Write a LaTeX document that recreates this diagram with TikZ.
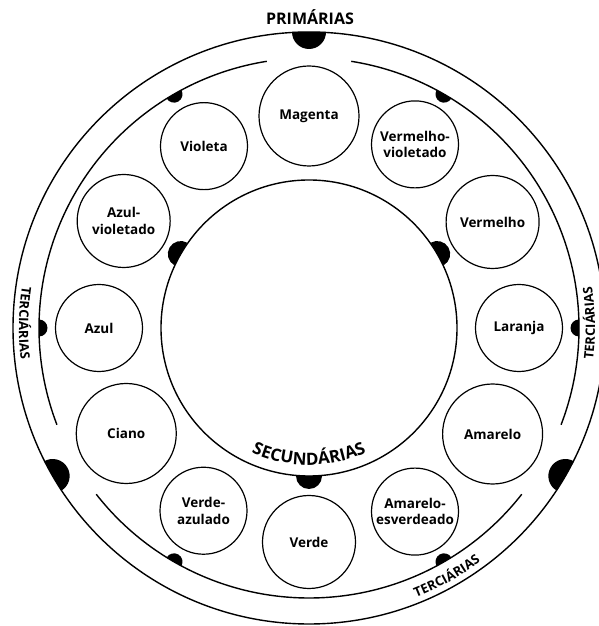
\documentclass[tikz,border=0pt]{standalone}
\usepackage{fontspec}
\setmainfont{Open Sans}
\usetikzlibrary{decorations.text}
\newcommand\tercfont{\bfseries\fontsize{13}{13}\selectfont}
\newcommand\secfont{\bfseries\fontsize{17}{17}\selectfont}
\begin{document}
\begin{tikzpicture}[x=1pt,y=1pt,
  ring/.style={line width=1.4pt},
  colorcircle/.style={circle, draw, line width=1.2pt, inner sep=0pt, align=center,
    font=\bfseries\fontsize{13.5}{16.5}\selectfont},
  prim/.style={colorcircle, minimum size=100pt},
  sec/.style={colorcircle, minimum size=93pt},
  ter/.style={colorcircle, minimum size=87pt},
  arctext/.style={decorate, decoration={text along path, text align=center, text={#1}}}
]
\useasboundingbox (0,0) rectangle (599,626);
\clip (0,0) rectangle (599,626);
\coordinate (C) at (309,298);

% rings
\draw[ring] (C) circle[radius=296];
\draw[ring] (C) circle[radius=148];
\draw[ring] ([shift={(99:270)}]C) arc[start angle=99, end angle=201, radius=270];
\draw[ring] ([shift={(218:270)}]C) arc[start angle=218, end angle=322, radius=270];
\draw[ring] ([shift={(339:270)}]C) arc[start angle=339, end angle=441, radius=270];

% dots
\foreach \a in {90,210,330}
  \fill ([shift={(\a:296)}]C) ++(\a+90:17) arc[start angle=\a+90, end angle=\a+270, radius=17] -- cycle;
\foreach \a in {30,150,270}
  \fill ([shift={(\a:148)}]C) ++(\a-90:13) arc[start angle=\a-90, end angle=\a+90, radius=13] -- cycle;
\foreach \a in {0,60,120,180,240,300}
  \fill ([shift={(\a:270)}]C) ++(\a+90:8.5) arc[start angle=\a+90, end angle=\a+270, radius=8.5] -- cycle;

% colour circles
\node[prim] (magenta) at ([shift={(90:212)}]C) {Magenta};
\node[ter]  (vermviol) at ([shift={(60:212)}]C) {Vermelho-\\violetado};
\node[sec]  (vermelho) at ([shift={(30:212)}]C) {Vermelho};
\node[ter]  (laranja) at ([shift={(0:210)}]C) {Laranja};
\node[prim] (amarelo) at ([shift={(330:212)}]C) {Amarelo};
\node[ter]  (amaresv) at ([shift={(300:212)}]C) {Amarelo-\\esverdeado};
\node[sec]  (verde) at ([shift={(270:214)}]C) {Verde};
\node[ter]  (verdeaz) at ([shift={(240:211)}]C) {Verde-\\azulado};
\node[prim] (ciano) at ([shift={(210:211)}]C) {Ciano};
\node[ter]  (azul) at ([shift={(180:210)}]C) {Azul};
\node[sec]  (azulviol) at ([shift={(150:214)}]C) {Azul-\\violetado};
\node[ter]  (violeta) at ([shift={(120:210)}]C) {Violeta};

% labels
\node[anchor=base, font=\bfseries\fontsize{16}{16}\selectfont] (primarias) at (310,601) {PRIMÁRIAS};
\path[arctext={|\secfont|SECUNDÁRIAS}] ([shift={(230:137)}]C) arc[start angle=230, end angle=310, radius=137];
\path[arctext={|\tercfont|TERCIÁRIAS}] ([shift={(159:290)}]C) arc[start angle=159, end angle=199, radius=290];
\path[arctext={|\tercfont|TERCIÁRIAS}] ([shift={(-19:286)}]C) arc[start angle=-19, end angle=21, radius=286];
\path[arctext={|\tercfont|TERCIÁRIAS}] ([shift={(279:290)}]C) arc[start angle=279, end angle=319, radius=290];
\end{tikzpicture}
\end{document}
